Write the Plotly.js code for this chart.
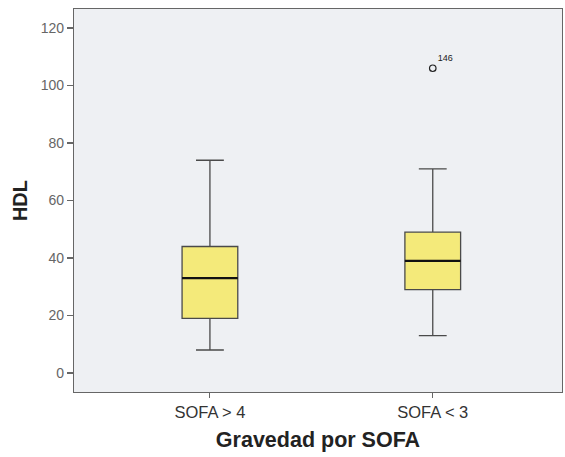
<!DOCTYPE html>
<html>
<head>
<meta charset="utf-8">
<script src="https://cdn.plot.ly/plotly-3.0.1.min.js"></script>
<style>html,body{margin:0;padding:0;background:#fff;}#chart{width:565px;height:457px;}</style>
</head>
<body>
<div id="chart"></div>
<script>
var categories = ["SOFA > 4", "SOFA < 3"];
var lowerFence = [8, 13];
var q1 = [19, 29];
var median = [33, 39];
var q3 = [44, 49];
var upperFence = [74, 71];
var outlierValues = [106];
var outlierGroup = [1];
var outlierLabels = ["146"];
var yTicks = [0, 20, 40, 60, 80, 100, 120];

var positions = categories.map(function(c, i){ return i; });
var boxWidth = 0.25;

var traces = [{
  type: 'box',
  x: positions,
  q1: q1, median: median, q3: q3,
  lowerfence: lowerFence, upperfence: upperFence,
  width: boxWidth,
  whiskerwidth: 0.5,
  fillcolor: '#F4EA7A',
  line: {color: '#4a4a4a', width: 1.3},
  boxpoints: false,
  hoverinfo: 'skip',
  showlegend: false
}];

positions.forEach(function(p, i){
  traces.push({
    type: 'scatter', mode: 'lines',
    x: [p - boxWidth/2, p + boxWidth/2],
    y: [median[i], median[i]],
    line: {color: '#111', width: 2.2},
    hoverinfo: 'skip', showlegend: false
  });
});

traces.push({
  type: 'scatter', mode: 'markers+text',
  x: outlierGroup.map(function(g){ return positions[g]; }),
  y: outlierValues,
  text: outlierLabels,
  textposition: 'top right',
  textfont: {family: 'Liberation Sans, Arial, sans-serif', size: 9, color: '#222'},
  marker: {symbol: 'circle-open', size: 6.5, color: '#222', line: {width: 1.2, color: '#222'}},
  hoverinfo: 'skip', showlegend: false
});

var layout = {
  width: 565, height: 457,
  margin: {l: 74, r: 3, t: 9, b: 65},
  paper_bgcolor: '#ffffff',
  plot_bgcolor: '#EEF0F3',
  font: {family: 'Liberation Sans, Arial, sans-serif', color: '#555'},
  xaxis: {
    range: [-0.61, 1.58],
    tickvals: positions,
    ticktext: categories,
    ticks: 'outside', ticklen: 5, tickcolor: '#666', tickwidth: 1,
    showgrid: false, zeroline: false,
    showline: true, linecolor: '#666', linewidth: 1.2, mirror: true,
    tickfont: {size: 16.5, color: '#333'},
    title: {text: '<b>Gravedad por SOFA</b>', font: {size: 21.5, color: '#222'}, standoff: 12}
  },
  yaxis: {
    range: [-6.6, 126.6],
    tickvals: yTicks,
    ticks: 'outside', ticklen: 6, tickcolor: '#666', tickwidth: 1.5,
    showgrid: false, zeroline: false,
    showline: true, linecolor: '#666', linewidth: 1.2, mirror: true,
    tickfont: {size: 14, color: '#666'},
    title: {text: '<b>HDL</b>', font: {size: 20, color: '#222'}, standoff: 7}
  }
};

Plotly.newPlot('chart', traces, layout, {displayModeBar: false, staticPlot: true});
</script>
</body>
</html>
